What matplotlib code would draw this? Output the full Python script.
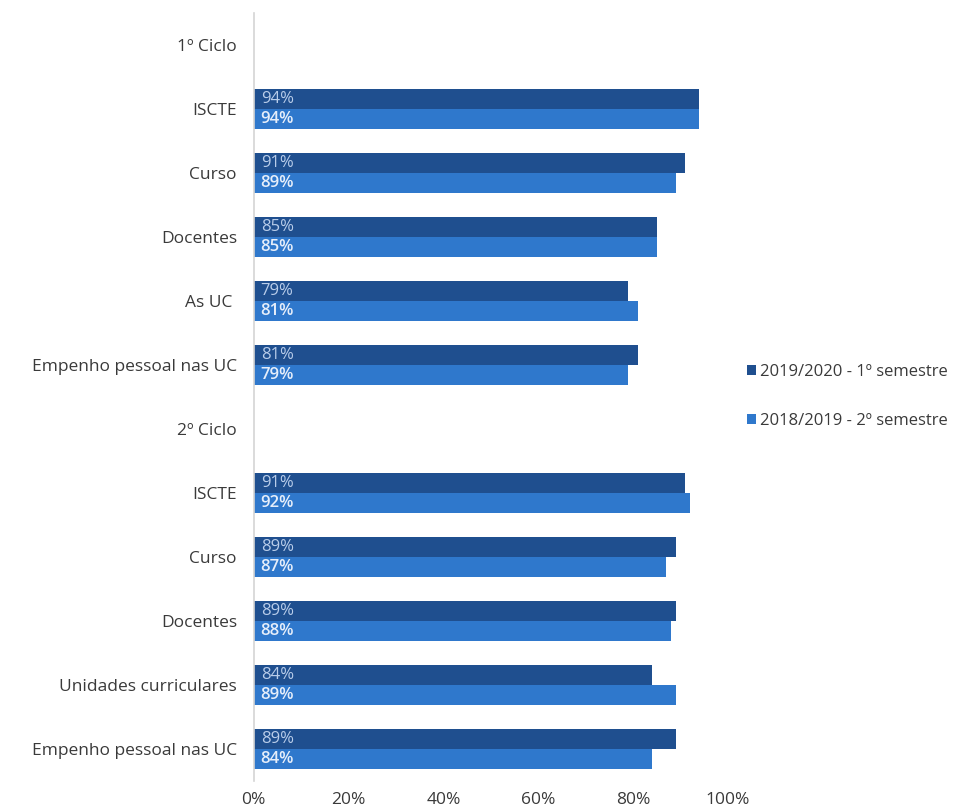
import matplotlib.pyplot as plt
import numpy as np

plt.rcParams["font.family"] = ["Open Sans", "DejaVu Sans"]

categories = [
    "1º Ciclo", "ISCTE", "Curso", "Docentes", "As UC ", "Empenho pessoal nas UC",
    "2º Ciclo", "ISCTE", "Curso", "Docentes", "Unidades curriculares", "Empenho pessoal nas UC",
]
series_names = ["2019/2020 - 1º semestre", "2018/2019 - 2º semestre"]
values_2019_2020 = [np.nan, 94, 91, 85, 79, 81, np.nan, 91, 89, 89, 84, 89]
values_2018_2019 = [np.nan, 94, 89, 85, 81, 79, np.nan, 92, 87, 88, 89, 84]
xticks = [0, 20, 40, 60, 80, 100]

dark_blue = "#1f4f8f"
light_blue = "#2f78cc"

fig = plt.figure(figsize=(9.68, 8.11), dpi=100)
ax = fig.add_axes([0.262, 0.037, 0.49, 0.947])

y = np.arange(len(categories))
h = 0.31
ax.barh(y - h / 2, values_2019_2020, height=h, color=dark_blue, label=series_names[0])
ax.barh(y + h / 2, values_2018_2019, height=h, color=light_blue, label=series_names[1])

# value labels inside the bars, at the left end
for yi, v in zip(y, values_2019_2020):
    if not np.isnan(v):
        ax.text(1.5, yi - h / 2, f"{v:.0f}%", va="center", ha="left",
                color="#b9cdea", fontsize=12)
for yi, v in zip(y, values_2018_2019):
    if not np.isnan(v):
        ax.text(1.5, yi + h / 2, f"{v:.0f}%", va="center", ha="left",
                color="#e6eefa", fontsize=12, fontweight="semibold")

ax.set_ylim(len(categories) - 0.5, -0.5)
ax.set_xlim(0, 100)
ax.set_yticks(y)
ax.set_yticklabels(categories, fontsize=12.5, color="#3a3a3a")
ax.set_xticks(xticks)
ax.set_xticklabels([f"{t}%" for t in xticks], fontsize=12.5, color="#3a3a3a")
ax.tick_params(axis="both", length=0)
ax.tick_params(axis="y", pad=12)
ax.tick_params(axis="x", pad=8)

for side in ["top", "right", "bottom"]:
    ax.spines[side].set_visible(False)
ax.spines["left"].set_color("#d4d4d4")
ax.spines["left"].set_linewidth(1.2)

fig.legend(loc="center left", bbox_to_anchor=(0.768, 0.511), frameon=False,
           fontsize=12, handlelength=0.55, handleheight=0.55, handletextpad=0.25,
           labelspacing=2.0, labelcolor="#3a3a3a", borderaxespad=0, borderpad=0.2)

fig.savefig("out.png", dpi=100)
